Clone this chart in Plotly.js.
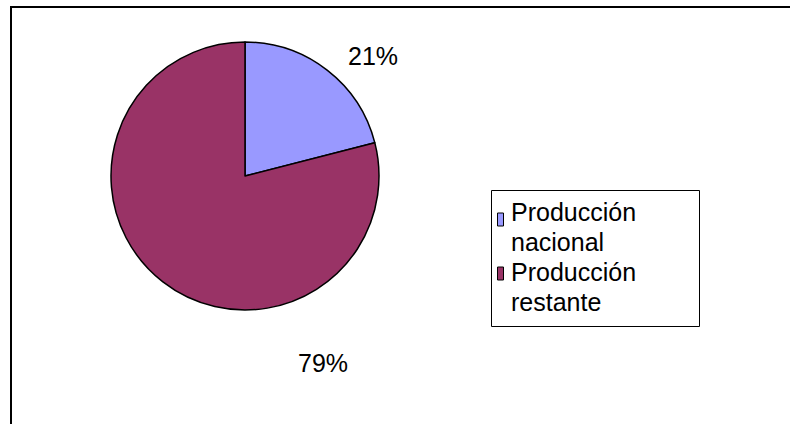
<!DOCTYPE html>
<html>
<head>
<meta charset="utf-8">
<script src="https://cdn.plot.ly/plotly-3.0.1.min.js"></script>
<style>
  html, body { margin: 0; padding: 0; background: #ffffff; }
  #chart { width: 790px; height: 424px; }
</style>
</head>
<body>
<div id="chart"></div>
<script>
// Share of production: national vs. remaining
const categories = ['Producción nacional', 'Producción restante'];
const shares = [21, 79];
const sliceColors = ['#9999FF', '#993366'];

const W = 790, H = 424;
const px = x => x / W;
const py = y => 1 - y / H;
const FONT = '"Liberation Sans", Arial, sans-serif';

const total = shares.reduce((a, b) => a + b, 0);
const pctText = shares.map(v => Math.round(v / total * 100) + '%');

const pie = {
  type: 'pie',
  labels: categories,
  values: shares,
  sort: false,
  direction: 'clockwise',
  rotation: 0,
  textinfo: 'none',
  hoverinfo: 'skip',
  showlegend: false,
  marker: { colors: sliceColors, line: { color: '#000000', width: 1.5 } },
  domain: { x: [px(111), px(379)], y: [py(310), py(42)] }
};

// percentage labels placed around the pie
const labelPos = [[373, 56], [323, 363]];
const annotations = pctText.map((t, i) => ({
  xref: 'paper', yref: 'paper',
  x: px(labelPos[i][0]), y: py(labelPos[i][1]),
  xanchor: 'center', yanchor: 'middle',
  text: t, showarrow: false,
  font: { family: FONT, size: 25, color: '#000000' }
}));

// legend box: swatch + label split over two lines
const shapes = [
  // outer frame
  { type: 'rect', xref: 'paper', yref: 'paper',
    x0: px(11), x1: px(900), y0: py(520), y1: py(7),
    line: { color: '#000000', width: 2 }, fillcolor: 'rgba(0,0,0,0)' },
  // legend border
  { type: 'rect', xref: 'paper', yref: 'paper',
    x0: px(491.5), x1: px(699.5), y0: py(326.5), y1: py(190.5),
    line: { color: '#000000', width: 1 }, fillcolor: 'rgba(0,0,0,0)' }
];

const rowTop = [213, 267];
categories.forEach((name, i) => {
  shapes.push({
    type: 'rect', xref: 'paper', yref: 'paper',
    x0: px(497.5), x1: px(503.5), y0: py(rowTop[i] + 13), y1: py(rowTop[i]),
    fillcolor: sliceColors[i], line: { color: '#000000', width: 1 }
  });
  const words = name.split(' ');
  words.forEach((w, j) => {
    const baseline = 220 + i * 60 + j * 30;
    annotations.push({
      xref: 'paper', yref: 'paper',
      x: px(509), y: py(baseline - 8),
      xanchor: 'left', yanchor: 'middle',
      text: w, showarrow: false,
      font: { family: FONT, size: 25, color: '#000000' }
    });
  });
});

const layout = {
  width: W, height: H,
  margin: { l: 0, r: 0, t: 0, b: 0, pad: 0 },
  paper_bgcolor: '#ffffff',
  plot_bgcolor: '#ffffff',
  showlegend: false,
  shapes: shapes,
  annotations: annotations
};

Plotly.newPlot('chart', [pie], layout, { staticPlot: true, displayModeBar: false });
</script>
</body>
</html>
